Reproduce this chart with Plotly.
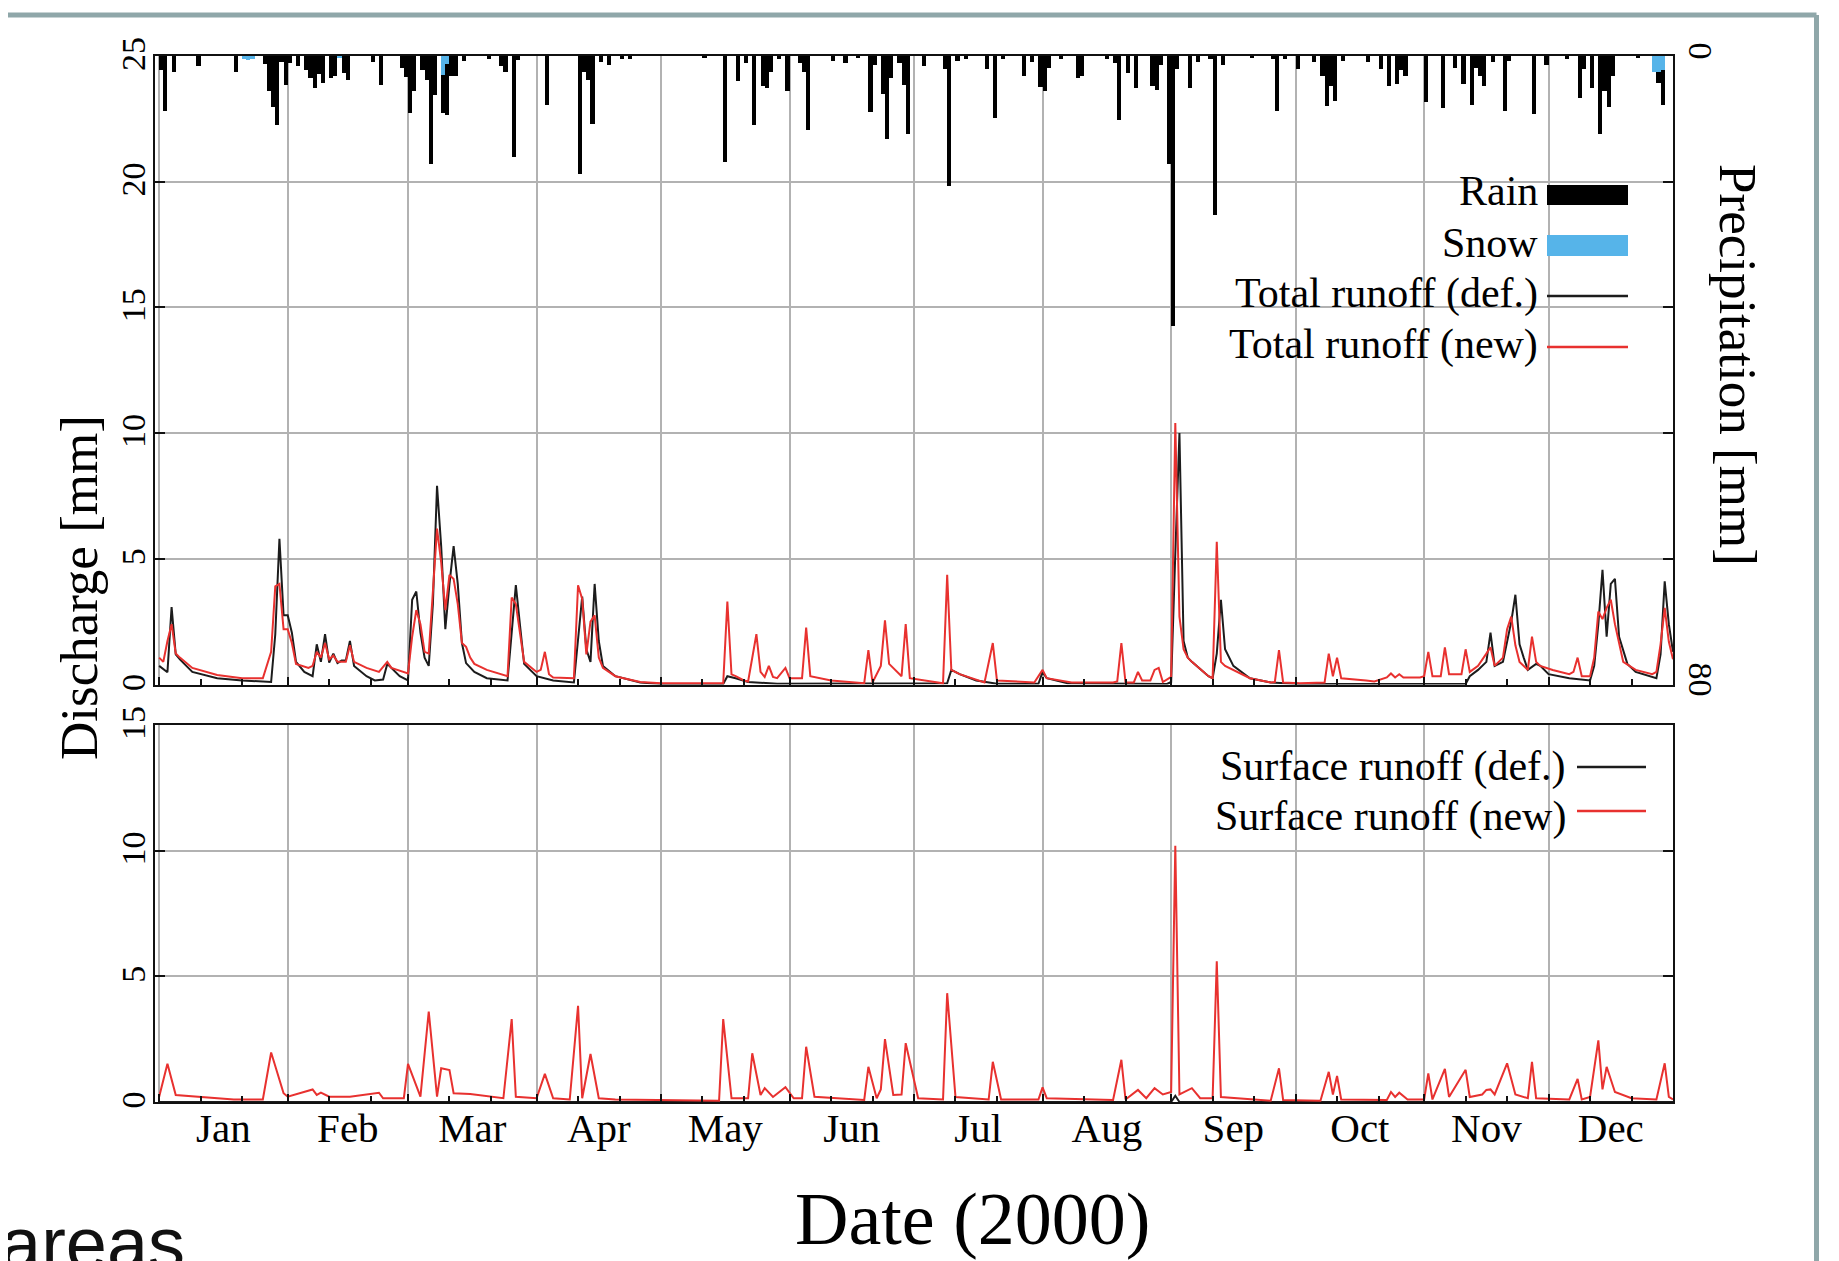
import plotly.graph_objects as go
from datetime import datetime, timedelta

# ---------------- data (day of year 2000, value) ----------------
rain = [(1, 1.8), (2, 7.0), (4, 2.0), (10, 1.3), (19, 2.0), (26, 1.0), (27, 4.4), (28, 6.5), (29, 8.8),
        (30, 0.8), (31, 3.7), (32, 0.9), (34, 1.3), (36, 1.8), (37, 2.8), (38, 4.1), (39, 2.3), (40, 3.4),
        (42, 2.8), (43, 2.6), (45, 2.2), (46, 3.1), (52, 0.7), (54, 3.7), (59, 1.5), (60, 2.7), (61, 7.3),
        (62, 4.5), (64, 1.8), (65, 3.1), (66, 13.7), (67, 4.9), (69, 4.9), (70, 6.5), (71, 2.5), (72, 2.5),
        (74, 0.6), (80, 0.4), (83, 1.3), (84, 2.0), (86, 12.9), (87, 0.5), (94, 6.3), (102, 15.0), (103, 2.0),
        (104, 3.0), (105, 8.6), (107, 0.7), (109, 1.1), (112, 0.4), (114, 0.4), (132, 0.3), (137, 13.5),
        (140, 3.2), (142, 0.9), (144, 8.8), (146, 3.8), (147, 4.1), (148, 2.0), (150, 0.4), (152, 4.4),
        (155, 0.9), (156, 2.0), (157, 9.4), (163, 0.6), (166, 0.9), (169, 0.3), (172, 7.1), (173, 1.2),
        (175, 4.8), (176, 10.6), (177, 2.8), (179, 0.9), (180, 3.7), (181, 9.9), (185, 1.3), (190, 1.6),
        (191, 16.5), (193, 0.6), (195, 0.4), (200, 1.7), (202, 7.9), (204, 0.4), (209, 2.5), (211, 0.7),
        (213, 4.0), (214, 4.5), (215, 1.5), (218, 0.4), (222, 2.8), (223, 2.6), (229, 0.4), (231, 0.9),
        (232, 8.2), (234, 2.2), (236, 4.1), (240, 3.8), (241, 4.3), (242, 1.2), (244, 13.8), (245, 34.4),
        (246, 1.7), (249, 4.1), (251, 0.7), (254, 0.4), (255, 20.2), (257, 1.1), (264, 0.3), (269, 0.4),
        (270, 7.0), (272, 0.4), (275, 1.6), (279, 0.7), (281, 2.5), (282, 6.4), (283, 3.8), (284, 5.7),
        (286, 0.6), (292, 0.8), (295, 1.6), (297, 3.8), (299, 3.6), (300, 1.8), (301, 2.5), (306, 5.9),
        (310, 6.6), (313, 1.5), (315, 3.6), (317, 6.2), (318, 1.5), (319, 2.5), (320, 3.8), (322, 0.7),
        (325, 7.0), (326, 0.6), (332, 7.4), (335, 1.2), (340, 0.4), (343, 5.3), (344, 1.7), (346, 4.1),
        (348, 9.9), (349, 4.4), (350, 6.5), (351, 2.5), (357, 0.3), (362, 1.4), (363, 4.4)]

snow = [(21, 0.4), (22, 0.5), (23, 0.4), (44, 0.3), (69, 2.4), (70, 1.0), (361, 2.0), (362, 2.0), (363, 1.8)]

total_def = [(1, 0.74), (3, 0.49), (4, 3.08), (5, 1.2), (6, 1.0), (9, 0.5), (15, 0.25), (21, 0.16), (28, 0.1),
             (29, 2.0), (30, 5.8), (31, 2.75), (32, 2.75), (33, 2.06), (34, 0.9), (36, 0.5), (38, 0.33),
             (39, 1.6), (40, 0.9), (41, 2.0), (42, 0.87), (43, 1.23), (44, 0.85), (45, 0.95), (46, 0.95),
             (47, 1.73), (48, 0.74), (51, 0.33), (53, 0.16), (55, 0.2), (56, 0.82), (57, 0.66), (59, 0.33),
             (61, 0.16), (62, 3.37), (63, 3.7), (64, 2.06), (65, 1.07), (66, 0.74), (67, 3.2), (68, 7.9),
             (69, 5.5), (70, 2.2), (71, 4.0), (72, 5.5), (73, 4.0), (74, 1.65), (75, 0.85), (77, 0.5),
             (80, 0.25), (85, 0.16), (86, 2.06), (87, 3.95), (88, 2.36), (89, 0.82), (92, 0.33), (96, 0.16),
             (101, 0.08), (102, 1.85), (103, 3.5), (104, 1.4), (105, 0.9), (106, 4.0), (107, 1.73),
             (108, 0.74), (111, 0.33), (117, 0.08), (122, 0.02), (137, 0.02), (138, 0.33), (140, 0.25),
             (143, 0.1), (150, 0.03), (190, 0.03), (191, 0.05), (192, 0.58), (194, 0.41), (198, 0.16),
             (203, 0.03), (213, 0.03), (214, 0.5), (215, 0.25), (220, 0.05), (244, 0.02), (245, 0.1),
             (246, 5.2), (247, 10.0), (248, 1.73), (249, 1.07), (250, 0.9), (254, 0.33), (255, 0.25),
             (256, 1.23), (257, 3.37), (258, 1.4), (260, 0.74), (264, 0.25), (269, 0.08), (276, 0.02),
             (316, 0.02), (317, 0.33), (319, 0.58), (321, 0.9), (322, 2.06), (323, 0.74), (325, 0.9),
             (326, 1.73), (327, 2.5), (328, 3.57), (329, 1.6), (330, 1.07), (331, 0.58), (333, 0.82),
             (334, 0.74), (336, 0.41), (341, 0.25), (346, 0.16), (347, 0.74), (348, 2.4), (349, 4.56),
             (350, 1.9), (351, 4.0), (352, 4.2), (353, 1.9), (355, 0.82), (357, 0.5), (362, 0.25),
             (363, 1.2), (364, 4.1), (365, 2.4), (366, 1.3)]

total_new = [(1, 1.07), (2, 0.9), (3, 1.73), (4, 2.4), (5, 1.23), (6, 1.07), (9, 0.66), (15, 0.38), (21, 0.25),
             (26, 0.25), (28, 1.3), (29, 3.9), (30, 4.0), (31, 2.2), (32, 2.2), (33, 1.65), (34, 0.82),
             (37, 0.66), (38, 0.74), (39, 1.3), (40, 1.07), (41, 1.65), (42, 1.0), (43, 1.15), (44, 0.9),
             (46, 0.9), (47, 1.56), (48, 0.9), (51, 0.66), (54, 0.5), (56, 0.9), (57, 0.66), (61, 0.44),
             (62, 1.9), (63, 2.96), (64, 2.4), (65, 1.3), (66, 1.23), (67, 3.7), (68, 6.2), (69, 4.86),
             (70, 2.96), (71, 4.36), (72, 4.2), (73, 3.2), (74, 1.65), (75, 1.5), (76, 1.07), (77, 0.82),
             (80, 0.58), (85, 0.33), (86, 3.46), (87, 3.2), (88, 2.06), (89, 0.9), (92, 0.5), (93, 0.58),
             (94, 1.3), (95, 0.41), (96, 0.28), (101, 0.25), (102, 3.95), (103, 3.4), (104, 1.2), (105, 2.5),
             (106, 2.75), (107, 1.07), (108, 0.66), (111, 0.33), (113, 0.25), (117, 0.1), (122, 0.05),
             (137, 0.05), (138, 3.3), (139, 0.4), (140, 0.33), (142, 0.16), (143, 0.12), (145, 2.0),
             (146, 0.5), (147, 0.3), (148, 0.74), (149, 0.3), (150, 0.25), (152, 0.66), (153, 0.25),
             (156, 0.25), (157, 2.26), (158, 0.33), (163, 0.16), (171, 0.05), (172, 1.37), (173, 0.08),
             (175, 0.74), (176, 2.55), (177, 0.82), (180, 0.33), (181, 2.4), (182, 0.25), (190, 0.05),
             (191, 4.36), (192, 0.58), (194, 0.41), (200, 0.08), (202, 1.65), (203, 0.16), (212, 0.08),
             (214, 0.58), (215, 0.25), (221, 0.08), (231, 0.08), (232, 0.12), (233, 1.65), (234, 0.08),
             (236, 0.08), (237, 0.5), (238, 0.16), (240, 0.16), (241, 0.58), (242, 0.66), (243, 0.1),
             (245, 0.3), (246, 10.4), (247, 2.7), (248, 1.4), (249, 1.07), (250, 0.9), (254, 0.33),
             (255, 0.25), (256, 5.68), (257, 0.9), (258, 0.74), (260, 0.58), (264, 0.25), (269, 0.08),
             (270, 0.1), (271, 1.37), (272, 0.08), (276, 0.05), (282, 0.08), (283, 1.23), (284, 0.33),
             (285, 1.07), (286, 0.25), (292, 0.16), (294, 0.12), (297, 0.28), (298, 0.44), (299, 0.28),
             (300, 0.41), (301, 0.28), (305, 0.28), (306, 0.33), (307, 1.3), (308, 0.33), (310, 0.33),
             (311, 1.48), (312, 0.41), (315, 0.41), (316, 1.4), (317, 0.5), (319, 0.74), (321, 1.23),
             (322, 1.48), (323, 0.74), (325, 1.07), (326, 2.2), (327, 2.7), (328, 1.56), (329, 0.9),
             (331, 0.58), (332, 1.9), (333, 0.9), (334, 0.74), (337, 0.58), (341, 0.41), (342, 0.5),
             (343, 1.07), (344, 0.33), (346, 0.33), (347, 1.07), (348, 2.9), (349, 2.6), (350, 3.05),
             (351, 3.37), (352, 2.4), (354, 0.9), (357, 0.58), (361, 0.41), (362, 0.5), (363, 1.6),
             (364, 3.05), (365, 1.7), (366, 1.0)]

surface_def = [(1, 0.0), (245, 0.0), (246, 0.25), (247, 0.0), (366, 0.0)]

surface_new = [(1, 0.21), (3, 1.52), (5, 0.28), (19, 0.1), (26, 0.1), (28, 1.97), (31, 0.35), (32, 0.21),
               (38, 0.5), (39, 0.28), (40, 0.37), (42, 0.21), (47, 0.21), (54, 0.37), (55, 0.15), (60, 0.15),
               (61, 1.52), (64, 0.21), (66, 3.6), (68, 0.21), (69, 1.34), (71, 1.27), (72, 0.35), (76, 0.32),
               (84, 0.15), (86, 3.3), (87, 0.21), (92, 0.15), (94, 1.12), (96, 0.15), (100, 0.1), (102, 3.83),
               (103, 0.15), (105, 1.91), (107, 0.15), (111, 0.1), (136, 0.05), (137, 3.3), (139, 0.15),
               (143, 0.15), (144, 1.94), (146, 0.28), (147, 0.55), (149, 0.2), (152, 0.59), (154, 0.15),
               (156, 0.15), (157, 2.2), (159, 0.21), (171, 0.08), (172, 1.4), (174, 0.15), (175, 0.5),
               (176, 2.5), (178, 0.28), (180, 0.3), (181, 2.34), (184, 0.15), (190, 0.1), (191, 4.33),
               (193, 0.2), (201, 0.1), (202, 1.6), (204, 0.1), (213, 0.1), (214, 0.58), (215, 0.15),
               (231, 0.08), (233, 1.68), (234, 0.1), (237, 0.48), (239, 0.15), (241, 0.55), (243, 0.3),
               (245, 0.4), (246, 10.19), (247, 0.3), (250, 0.55), (252, 0.15), (255, 0.15), (256, 5.6),
               (257, 0.2), (269, 0.05), (271, 1.34), (272, 0.08), (281, 0.05), (283, 1.2), (284, 0.3),
               (285, 1.04), (286, 0.1), (297, 0.08), (298, 0.4), (299, 0.2), (300, 0.37), (302, 0.1),
               (306, 0.1), (307, 1.14), (308, 0.1), (311, 1.32), (312, 0.2), (316, 1.28), (317, 0.2),
               (320, 0.3), (321, 0.48), (322, 0.5), (323, 0.3), (326, 1.54), (328, 0.3), (331, 0.15),
               (332, 1.6), (333, 0.15), (341, 0.1), (343, 0.92), (344, 0.1), (346, 0.2), (348, 2.45),
               (349, 0.5), (350, 1.4), (352, 0.4), (356, 0.15), (362, 0.1), (364, 1.54), (365, 0.2),
               (366, 0.1)]

discharge_ticks = [0, 5, 10, 15, 20, 25]
surface_ticks = [0, 5, 10, 15]
precip_ticks = [0, 16, 32, 48, 64, 80]
precip_ticktext = ["0", "", "", "", "", "80"]

# ---------------- helpers ----------------
BASE = datetime(1999, 12, 31)


def day_x(d, half=False):
    return BASE + timedelta(days=d + (0.5 if half else 0.0))


OFF = 8  # page body margin of the html page
W, H = 1839 - OFF, 1261 - OFF
PL, PR, PT, PB = 155, 1673, 56, 1102  # plot area in screenshot pixels


def fx(px):
    return (px - PL) / (PR - PL)


def fy(py):
    return (PB - py) / (PB - PT)


SERIF = "Liberation Serif"
GRID = "#b2b2b2"
AX = "#111111"
RED = "#e8312f"
BLK = "#1c1c1c"
BLUE = "#56b4e9"

fig = go.Figure()

fig.add_trace(go.Bar(x=[day_x(d, True) for d, _ in snow], y=[v for _, v in snow], name="Snow",
                     marker=dict(color=BLUE, line=dict(width=0)), width=86400000,
                     xaxis="x", yaxis="y3", showlegend=False))
fig.add_trace(go.Bar(x=[day_x(d, True) for d, _ in rain], y=[v for _, v in rain], name="Rain",
                     marker=dict(color="#000000", line=dict(width=0)), width=86400000,
                     xaxis="x", yaxis="y3", showlegend=False))
fig.add_trace(go.Scatter(x=[day_x(d) for d, _ in total_def], y=[v for _, v in total_def],
                         mode="lines", name="Total runoff (def.)", line=dict(color=BLK, width=2),
                         xaxis="x", yaxis="y", showlegend=False))
fig.add_trace(go.Scatter(x=[day_x(d) for d, _ in total_new], y=[v for _, v in total_new],
                         mode="lines", name="Total runoff (new)", line=dict(color=RED, width=2),
                         xaxis="x", yaxis="y", showlegend=False))
fig.add_trace(go.Scatter(x=[day_x(d) for d, _ in surface_def], y=[v for _, v in surface_def],
                         mode="lines", name="Surface runoff (def.)", line=dict(color=BLK, width=2),
                         xaxis="x2", yaxis="y2", showlegend=False))
fig.add_trace(go.Scatter(x=[day_x(d) for d, _ in surface_new], y=[v for _, v in surface_new],
                         mode="lines", name="Surface runoff (new)", line=dict(color=RED, width=2),
                         xaxis="x2", yaxis="y2", showlegend=False))

minor_vals = []
for m in range(1, 13):
    minor_vals.append("2000-%02d-11" % m)
    minor_vals.append("2000-%02d-21" % m)

xcommon = dict(type="date", range=["1999-12-31", "2000-12-31"], dtick="M1", tick0="2000-01-01",
               ticklabelmode="period", tickformat="%b", ticks="inside", ticklen=8, tickwidth=2,
               tickcolor=AX, showgrid=True, gridcolor=GRID, gridwidth=1.5, showline=True,
               linecolor=AX, linewidth=2, mirror=True, zeroline=False,
               minor=dict(tickmode="array", tickvals=minor_vals, ticks="inside", ticklen=6,
                          tickwidth=1.5, tickcolor=AX, showgrid=False))

ycommon = dict(tickmode="array", ticks="inside", ticklen=10, tickwidth=2, tickcolor=AX, tickangle=-90,
               tickfont=dict(size=34, family=SERIF, color="#000"), showline=True, linecolor=AX,
               linewidth=2, showgrid=True, gridcolor=GRID, gridwidth=1.5, zeroline=False,
               ticklabelstandoff=-6, ticklabelshift=3)

top_dom = [fy(684.5), 1.0]
bot_dom = [0.0, fy(725)]

annotations = [
    dict(text="Discharge [mm]", x=fx(79), y=fy(588), textangle=-90, font=dict(size=53)),
    dict(text="Precipitation [mm]", x=fx(1738), y=fy(365), textangle=90, font=dict(size=53)),
    dict(text="Date (2000)", x=fx(973), y=fy(1219), font=dict(size=74)),
    dict(text="areas", x=fx(-2), y=fy(1243), xanchor="left",
         font=dict(size=74, family="Liberation Sans", color="#111")),
]
legend_rows = [("Rain", 1540, 191), ("Snow", 1540, 243), ("Total runoff (def.)", 1540, 293),
               ("Total runoff (new)", 1540, 344), ("Surface runoff (def.)", 1568, 766),
               ("Surface runoff (new)", 1568, 816)]
for txt, xr, yc in legend_rows:
    annotations.append(dict(text=txt, x=fx(xr), y=fy(yc), xanchor="right", font=dict(size=42)))
for a in annotations:
    a.setdefault("xref", "paper")
    a.setdefault("yref", "paper")
    a.setdefault("showarrow", False)
    a.setdefault("xanchor", "center")
    a.setdefault("yanchor", "middle")
    f = a["font"]
    f.setdefault("family", SERIF)
    f.setdefault("color", "#000")

shapes = [
    # opaque key column
    dict(type="rect", x0=fx(1544), x1=fx(1631), y0=fy(372), y1=fy(166), fillcolor="white",
         line=dict(width=0), layer="between"),
    # legend keys
    dict(type="rect", x0=fx(1547), x1=fx(1628), y0=fy(205), y1=fy(185), fillcolor="#000",
         line=dict(width=0)),
    dict(type="rect", x0=fx(1547), x1=fx(1628), y0=fy(256), y1=fy(235), fillcolor=BLUE,
         line=dict(width=0)),
    dict(type="line", x0=fx(1547), x1=fx(1628), y0=fy(296), y1=fy(296), line=dict(color=BLK, width=2.5)),
    dict(type="line", x0=fx(1547), x1=fx(1628), y0=fy(347), y1=fy(347), line=dict(color=RED, width=2.5)),
    dict(type="line", x0=fx(1577), x1=fx(1646), y0=fy(767), y1=fy(767), line=dict(color=BLK, width=2.5)),
    dict(type="line", x0=fx(1577), x1=fx(1646), y0=fy(811), y1=fy(811), line=dict(color=RED, width=2.5)),
    # slide frame
    dict(type="line", x0=fx(-5), x1=fx(1816.5), y0=fy(15), y1=fy(15), line=dict(color="#8fa7a9", width=5)),
    dict(type="line", x0=fx(1816.5), x1=fx(1816.5), y0=fy(15), y1=fy(1270),
         line=dict(color="#8fa7a9", width=5)),
]
for s in shapes:
    s["xref"] = "paper"
    s["yref"] = "paper"

fig.update_layout(
    width=W, height=H,
    margin=dict(l=PL - OFF, r=W - (PR - OFF), t=PT - OFF, b=H - (PB - OFF), pad=0),
    paper_bgcolor="white", plot_bgcolor="white",
    font=dict(family=SERIF, color="#000"),
    barmode="stack", bargap=0,
    showlegend=False,
    xaxis=dict(xcommon, anchor="y", showticklabels=False),
    xaxis2=dict(xcommon, anchor="y2", matches="x", showticklabels=True, ticklabelstandoff=-11,
                tickfont=dict(size=41, family=SERIF, color="#000")),
    yaxis=dict(ycommon, domain=top_dom, anchor="x", range=[0, 25], tickvals=discharge_ticks, mirror=True),
    yaxis2=dict(ycommon, domain=bot_dom, anchor="x2", range=[0, 15], tickvals=surface_ticks, mirror="ticks"),
    yaxis3=dict(overlaying="y", side="right", anchor="x", range=[80, 0], tickmode="array",
                tickvals=precip_ticks, ticktext=precip_ticktext, ticks="inside", ticklen=10, tickwidth=2,
                tickcolor=AX, tickangle=90, tickfont=dict(size=34, family=SERIF, color="#000"),
                showgrid=False, showline=True, linecolor=AX, linewidth=2, zeroline=False),
    annotations=annotations,
    shapes=shapes,
)

fig.write_html("out.html")
